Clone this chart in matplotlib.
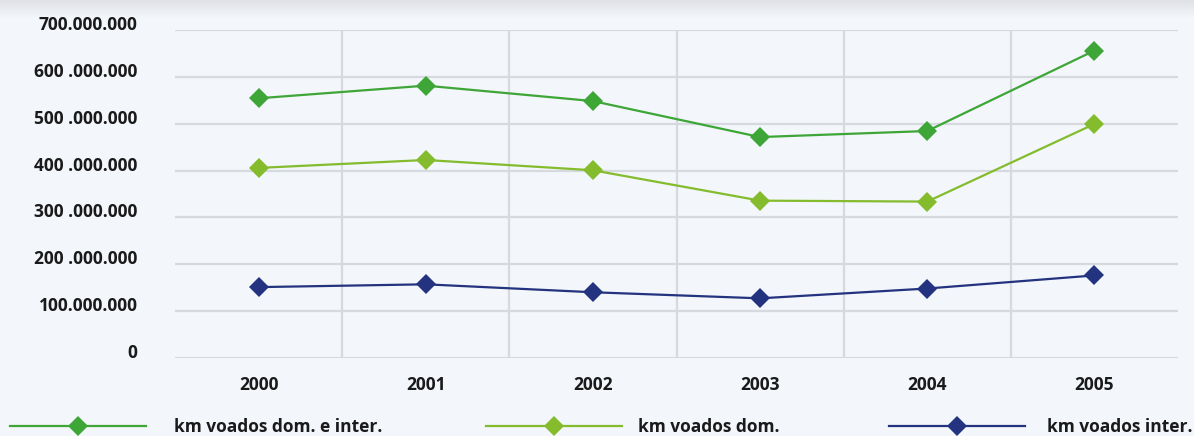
import numpy as np
import matplotlib
matplotlib.use("Agg")
import matplotlib.pyplot as plt
from matplotlib.transforms import ScaledTranslation
from matplotlib.colors import LinearSegmentedColormap

# ---- data ----
years = ["2000", "2001", "2002", "2003", "2004", "2005"]
km_dom_inter = [555e6, 582e6, 549e6, 472e6, 485e6, 657e6]
km_dom = [406e6, 423e6, 401e6, 336e6, 334e6, 500e6]
km_inter = [151e6, 157e6, 140e6, 127e6, 148e6, 176e6]
series_names = ["km voados dom. e inter.", "km voados dom.", "km voados inter."]
y_ticks = [0, 100e6, 200e6, 300e6, 400e6, 500e6, 600e6, 700e6]
y_tick_labels = ["0", "100.000.000", "200 .000.000", "300 .000.000",
                 "400 .000.000", "500 .000.000", "600 .000.000", "700.000.000"]

colors = ["#3da637", "#84bc2d", "#24337f"]
bg = "#f3f6fb"
grid_c = "#d6d9de"
text_c = "#1a1a1a"
font = "Open Sans"
fs = 12.5

plt.rcParams['font.family'] = [font, 'DejaVu Sans']

fig = plt.figure(figsize=(11.94, 4.36), dpi=100, facecolor=bg)
W, H = 1194, 436

# top shadow gradient
sh = fig.add_axes([0, 1 - 18/H, 1, 18/H])
grad = np.linspace(0, 1, 50).reshape(-1, 1)
cm = LinearSegmentedColormap.from_list("sh", ["#dfe1e5", bg])
sh.imshow(grad, aspect="auto", cmap=cm, extent=[0, 1, 1, 0])
sh.set_axis_off()

ax = fig.add_axes([175/W, 1 - 357.7/H, (1178-175)/W, (357.7-30.5)/H])
ax.set_facecolor(bg)
x = np.arange(len(years))
ax.set_xlim(-0.5, len(years) - 0.5)
ax.set_ylim(0, 700e6)

for v in y_ticks:
    ax.axhline(v, color=grid_c, lw=1.6, zorder=1, solid_capstyle="butt")
for xv in np.arange(0.5, len(years) - 0.5, 1.0):
    ax.axvline(xv, color=grid_c, lw=1.6, zorder=1)

data = [km_dom_inter, km_dom, km_inter]
handles = []
for vals, c in zip(data, colors):
    h, = ax.plot(x, vals, color=c, lw=1.6, marker="D", ms=10.5,
                 markeredgewidth=0, zorder=3, clip_on=False)
    handles.append(h)

for s in ax.spines.values():
    s.set_visible(False)

ax.set_yticks(y_ticks)
ax.set_yticklabels(y_tick_labels, fontsize=fs, fontweight="bold", color=text_c)
ax.tick_params(axis="y", length=0, pad=27)
for lab in ax.get_yticklabels():
    lab.set_transform(lab.get_transform() + ScaledTranslation(0, 7/100, fig.dpi_scale_trans))

ax.set_xticks(x)
ax.set_xticklabels(years, fontsize=fs, fontweight="bold", color=text_c)
ax.tick_params(axis="x", length=0, pad=13)

# legend: three separate entries
fs_px = fs * 100 / 72
leg_x = [10/W, 486/W, 889/W]
leg_gap = [28, 16, 22]
for h, name, lx, gap in zip(handles, series_names, leg_x, leg_gap):
    lg = fig.legend(handles=[h], labels=[name], loc="center left",
                    bbox_to_anchor=(lx, 1 - 427/H), frameon=False,
                    handlelength=136/fs_px, handletextpad=gap/fs_px,
                    borderpad=0, borderaxespad=0, numpoints=1,
                    prop={"family": font, "weight": "bold", "size": fs})
    for t in lg.get_texts():
        t.set_color(text_c)

fig.savefig("out.png", dpi=100, facecolor=bg)
